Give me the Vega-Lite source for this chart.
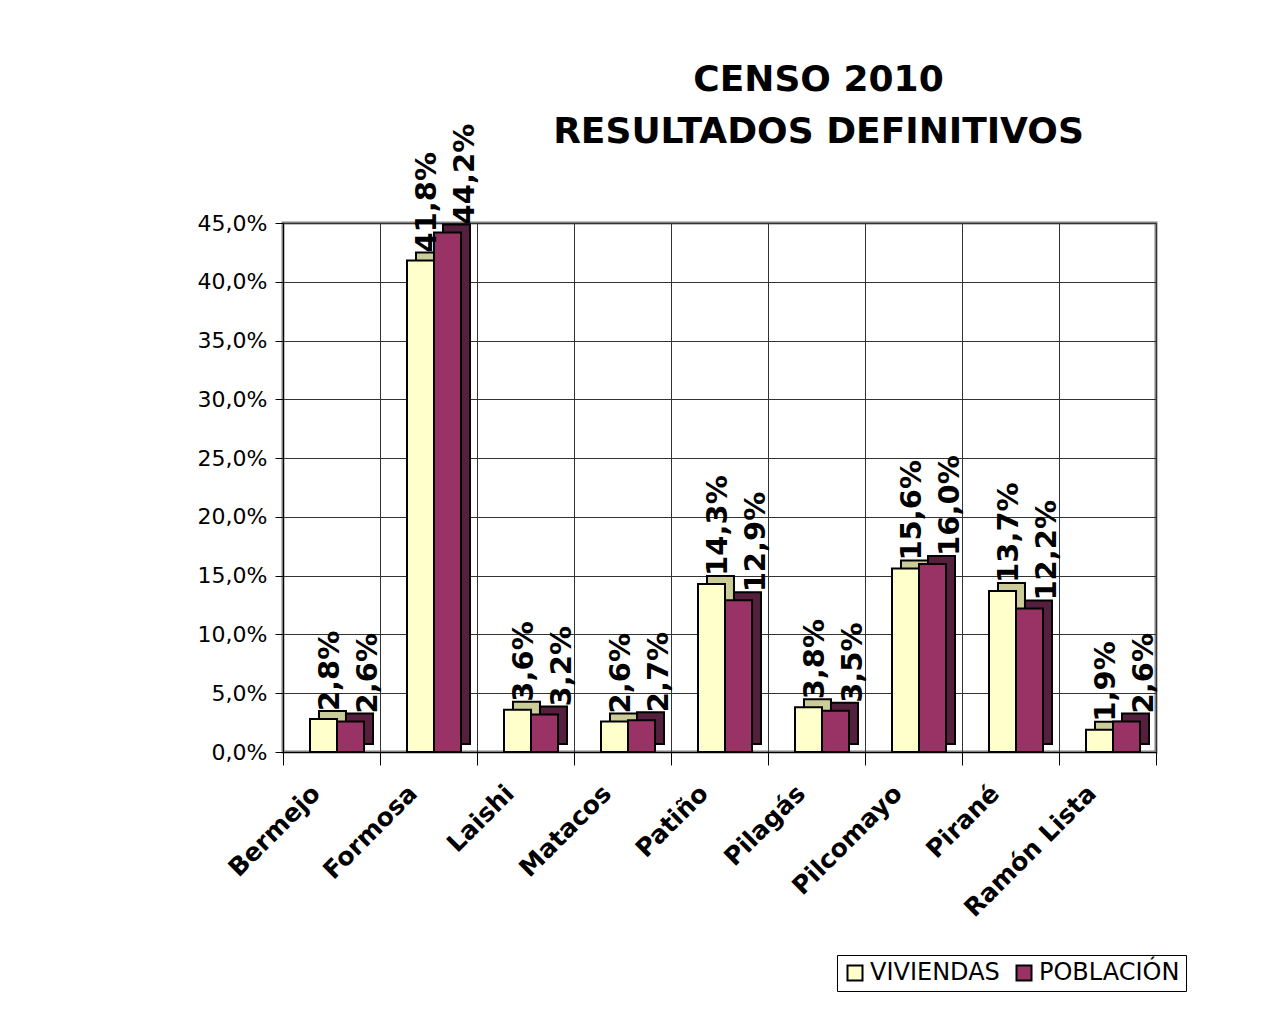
{
  "$schema": "https://vega.github.io/schema/vega-lite/v6.json",
  "width": 873,
  "height": 529,
  "autosize": {"type": "none"},
  "padding": {"left": 283, "top": 223, "right": 119, "bottom": 262},
  "background": "white",
  "title": {
    "text": ["CENSO 2010", "RESULTADOS DEFINITIVOS"],
    "font": "DejaVu Sans",
    "fontSize": 36,
    "fontWeight": "bold",
    "color": "black",
    "anchor": "middle",
    "frame": "group",
    "dx": 99,
    "offset": -27,
    "lineHeight": 52
  },
  "data": {
    "values": [
      {"municipio": "Bermejo", "serie": "VIVIENDAS", "valor": 0.028},
      {"municipio": "Bermejo", "serie": "POBLACIÓN", "valor": 0.026},
      {"municipio": "Formosa", "serie": "VIVIENDAS", "valor": 0.418},
      {"municipio": "Formosa", "serie": "POBLACIÓN", "valor": 0.442},
      {"municipio": "Laishi", "serie": "VIVIENDAS", "valor": 0.036},
      {"municipio": "Laishi", "serie": "POBLACIÓN", "valor": 0.032},
      {"municipio": "Matacos", "serie": "VIVIENDAS", "valor": 0.026},
      {"municipio": "Matacos", "serie": "POBLACIÓN", "valor": 0.027},
      {"municipio": "Patiño", "serie": "VIVIENDAS", "valor": 0.143},
      {"municipio": "Patiño", "serie": "POBLACIÓN", "valor": 0.129},
      {"municipio": "Pilagás", "serie": "VIVIENDAS", "valor": 0.038},
      {"municipio": "Pilagás", "serie": "POBLACIÓN", "valor": 0.035},
      {"municipio": "Pilcomayo", "serie": "VIVIENDAS", "valor": 0.156},
      {"municipio": "Pilcomayo", "serie": "POBLACIÓN", "valor": 0.160},
      {"municipio": "Pirané", "serie": "VIVIENDAS", "valor": 0.137},
      {"municipio": "Pirané", "serie": "POBLACIÓN", "valor": 0.122},
      {"municipio": "Ramón Lista", "serie": "VIVIENDAS", "valor": 0.019},
      {"municipio": "Ramón Lista", "serie": "POBLACIÓN", "valor": 0.026}
    ]
  },
  "encoding": {
    "x": {
      "field": "municipio",
      "type": "nominal",
      "sort": null,
      "scale": {"paddingInner": 0, "paddingOuter": 0},
      "axis": {
        "title": null,
        "labelAngle": -45,
        "labelAlign": "right",
        "labelBaseline": "middle",
        "labelFont": "DejaVu Sans",
        "labelFontSize": 25,
        "labelFontWeight": "bold",
        "labelColor": "black",
        "labelPadding": 24,
        "labelOffset": -16,
        "tickBand": "extent",
        "tickSize": 13,
        "tickColor": "black",
        "domainColor": "black",
        "domainWidth": 1,
        "grid": true,
        "gridColor": "#333333",
        "gridWidth": 1
      }
    },
    "y": {
      "field": "valor",
      "type": "quantitative",
      "scale": {"domain": [0, 0.45]},
      "axis": {
        "title": null,
        "format": ".1%",
        "values": [0, 0.05, 0.1, 0.15, 0.2, 0.25, 0.3, 0.35, 0.4, 0.45],
        "labelFont": "DejaVu Sans",
        "labelFontSize": 22,
        "labelColor": "black",
        "labelPadding": 8,
        "tickSize": 8,
        "tickColor": "black",
        "domainColor": "black",
        "domainWidth": 1,
        "grid": true,
        "gridColor": "#333333",
        "gridWidth": 1
      }
    }
  },
  "layer": [
    {
      "mark": {"type": "bar", "yOffset": -8, "stroke": "black", "strokeWidth": 2},
      "encoding": {
        "xOffset": {
          "field": "serie",
          "type": "nominal",
          "sort": ["VIVIENDAS", "POBLACIÓN"],
          "scale": {"paddingInner": 0, "paddingOuter": 0.796, "align": 0.837}
        },
        "color": {
          "field": "serie",
          "type": "nominal",
          "sort": ["VIVIENDAS", "POBLACIÓN"],
          "scale": {"domain": ["VIVIENDAS", "POBLACIÓN"], "range": ["#CCCC99", "#55203E"]},
          "legend": null
        }
      }
    },
    {
      "mark": {"type": "bar", "stroke": "black", "strokeWidth": 2},
      "encoding": {
        "xOffset": {
          "field": "serie",
          "type": "nominal",
          "sort": ["VIVIENDAS", "POBLACIÓN"],
          "scale": {"paddingInner": 0, "paddingOuter": 0.796, "align": 0.628}
        },
        "color": {
          "field": "serie",
          "type": "nominal",
          "sort": ["VIVIENDAS", "POBLACIÓN"],
          "scale": {"domain": ["VIVIENDAS", "POBLACIÓN"], "range": ["#FFFFCC", "#993366"]},
          "legend": {
            "title": null,
            "orient": "none",
            "legendX": 554,
            "legendY": 732,
            "direction": "horizontal",
            "strokeColor": "black",
            "fillColor": "white",
            "padding": 6,
            "symbolType": "square",
            "symbolSize": 225,
            "symbolStrokeColor": "black",
            "symbolStrokeWidth": 2,
            "symbolOpacity": 1,
            "labelFont": "DejaVu Sans",
            "labelFontSize": 24,
            "labelColor": "black",
            "columnPadding": 12,
            "labelOffset": 3
          }
        }
      }
    },
    {
      "mark": {
        "type": "text",
        "angle": 270,
        "align": "left",
        "baseline": "middle",
        "dx": 8,
        "dy": 10,
        "font": "DejaVu Sans",
        "fontSize": 29,
        "fontWeight": "bold",
        "color": "black"
      },
      "encoding": {
        "xOffset": {
          "field": "serie",
          "type": "nominal",
          "sort": ["VIVIENDAS", "POBLACIÓN"],
          "scale": {"paddingInner": 0, "paddingOuter": 0.796, "align": 0.628}
        },
        "text": {"field": "valor", "type": "quantitative", "format": ".1%"}
      }
    }
  ],
  "resolve": {"scale": {"color": "independent", "xOffset": "independent"}},
  "config": {
    "locale": {
      "number": {"decimal": ",", "thousands": ".", "grouping": [3], "currency": ["$", ""]}
    },
    "view": {"stroke": "#808080", "strokeWidth": 3},
    "axis": {"labelFont": "DejaVu Sans"}
  }
}
